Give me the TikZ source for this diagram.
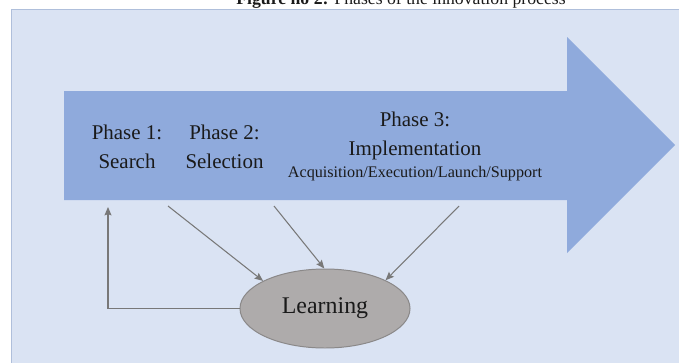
\documentclass[tikz,border=0pt]{standalone}
\usepackage{fontspec}
\setmainfont{Liberation Serif}
\usetikzlibrary{shapes.geometric,arrows.meta}

\definecolor{panelblue}{HTML}{DAE3F3}
\definecolor{paneledge}{HTML}{AFBFDB}
\definecolor{flowblue}{HTML}{8FAADC}
\definecolor{learngray}{HTML}{AEABAB}
\definecolor{learnedge}{HTML}{8A8888}
\definecolor{linkgray}{HTML}{787878}
\definecolor{inkdark}{HTML}{1A1A1A}

\begin{document}
\begin{tikzpicture}[
  >={Stealth[length=6pt,width=5pt,inset=1pt]},
  phase/.style={
    align=center,
    inner sep=0pt,
    text=inkdark,
    font=\fontsize{14.9}{20.6}\selectfont
  },
  learnbox/.style={
    draw=learnedge,
    ellipse,
    fill=learngray,
    inner sep=0pt,
    minimum width=4.25cm,
    minimum height=1.975cm,
    line width=0.7pt,
    text=inkdark,
    font=\fontsize{17}{20}\selectfont
  },
  link/.style={->, draw=linkgray, line width=0.75pt}
]

\useasboundingbox (0,0) rectangle (16.975,9.05);

\node[anchor=base, text=inkdark, font=\fontsize{12.6}{15}\selectfont] (title) at (10.025,8.93)
  {\textbf{Figure no 2:} Phases of the innovation process};

\fill[panelblue, draw=paneledge, line width=0.5pt] (0.275,-0.5) rectangle (17.5,8.825);

% process arrow
\fill[flowblue] (1.6,4.05) -- (1.6,6.775) -- (14.175,6.775) -- (14.175,8.125)
  -- (16.875,5.425) -- (14.175,2.725) -- (14.175,4.05) -- cycle;

\node[phase] (search) at (3.175,5.3875) {Phase 1:\\Search};
\node[phase] (selection) at (5.6125,5.3875) {Phase 2:\\Selection};
\node[phase] (implementation) at (10.375,5.3875) {
  Phase 3:\\
  Implementation\\[-4.3pt]
  {\fontsize{11.5}{14}\selectfont Acquisition/Execution/Launch/Support}
};

\node[learnbox] (learning) at (8.125,1.3375) {Learning};

\coordinate (out1) at (4.2,3.9);
\coordinate (out2) at (6.85,3.9);
\coordinate (out3) at (11.475,3.9);
\coordinate (back) at (2.7,3.875);

\draw[link] (out1) -- (learning.156);
\draw[link] (out2) -- (learning.91);
\draw[link] (out3) -- (learning.25);
\draw[link] (learning.west) -| (back);

\end{tikzpicture}
\end{document}
